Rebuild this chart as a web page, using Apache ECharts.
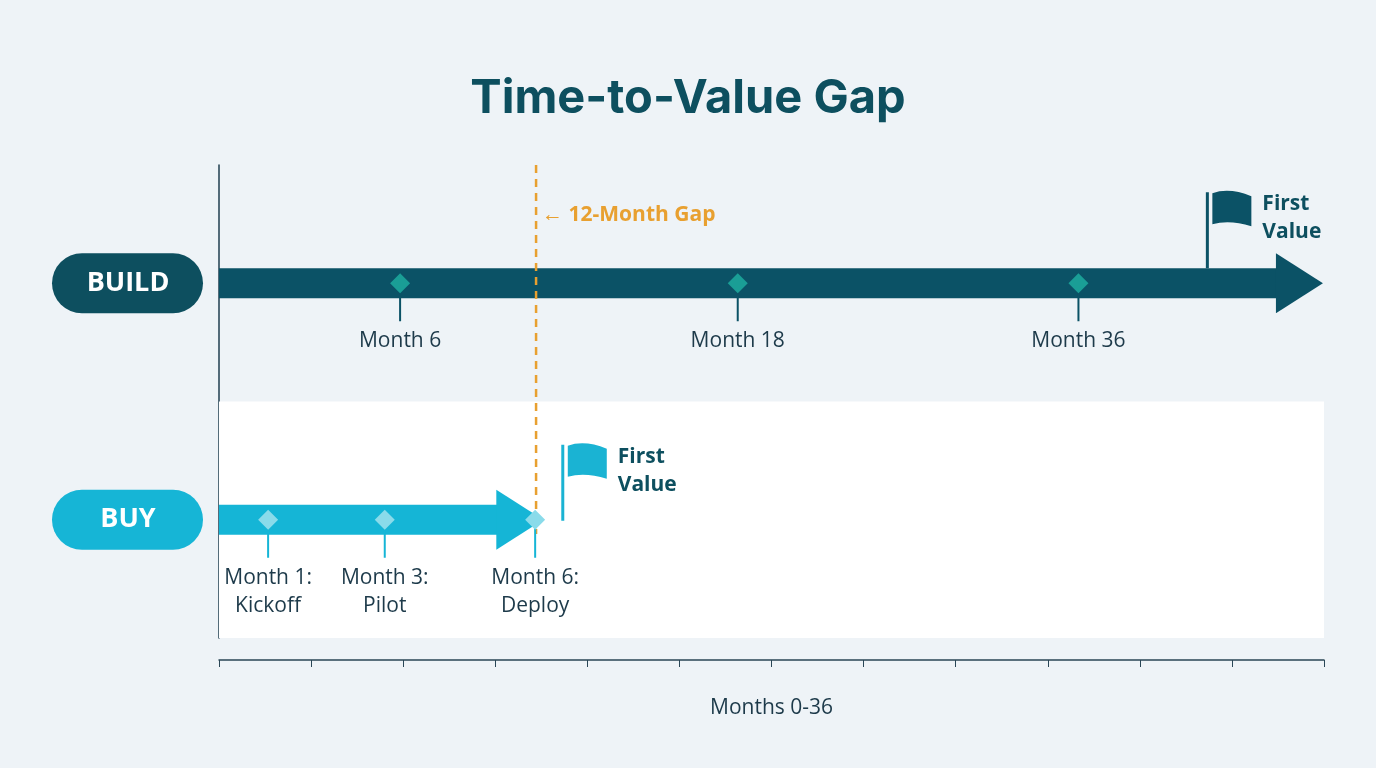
<!DOCTYPE html><html><head><meta charset="utf-8">
<script src="https://cdn.jsdelivr.net/npm/echarts@6/dist/echarts.min.js"></script>
<style>html,body{margin:0;background:#eef3f7}#c{width:1376px;height:768px}</style></head><body><div id="c"></div>
<script>
const rows = ['BUILD','BUY'];
const rowY = [75, 25];
const buildEnd = 34.5, buyEnd = 9.15;
const buildMarkers = [[5.9,'Month 6'],[16.9,'Month 18'],[28,'Month 36']];
const buyMarkers = [[1.6,'Month 1:\nKickoff'],[5.4,'Month 3:\nPilot'],[10.3,'Month 6:\nDeploy']];
const flags = [[32.2,75],[11.2,25]];
const gapMonth = 10.33;
const gapLabel = '← 12-Month Gap';
const xTicks = {min:0,max:36,interval:3};
const DARK='#0b5266', CYAN='#15b5d6', TXT='#1d3a4a';
const chart = echarts.init(document.getElementById('c'));
function markerItem(color, dcolor, stem){
  return function(params, api){
    const p = api.coord([api.value(0), api.value(1)]);
    const lab = api.value(2);
    return {type:'group',children:[
      {type:'line',shape:{x1:p[0],y1:p[1],x2:p[0],y2:p[1]+stem},style:{stroke:color,lineWidth:2}},
      {type:'polygon',shape:{points:[[p[0],p[1]-10],[p[0]+10,p[1]],[p[0],p[1]+10],[p[0]-10,p[1]]]},style:{fill:dcolor}},
      {type:'text',x:p[0],y:p[1]+stem+6,style:{text:lab,fill:TXT,font:'21px "Open Sans"',align:'center',verticalAlign:'top',lineHeight:28}}
    ]};
  };
}
chart.setOption({
  backgroundColor:'#eef3f7',
  title:{text:'Time-to-Value Gap',left:'center',top:70,textStyle:{fontSize:47,fontWeight:'bold',color:'#0d4f5f',fontFamily:'Inter'}},
  grid:{left:219,right:52,top:165,bottom:130},
  xAxis:{type:'value',min:xTicks.min,max:xTicks.max,interval:xTicks.interval,offset:22,
    axisLine:{show:true,onZero:false,lineStyle:{color:'#2a4656',width:1.5}},axisTick:{show:true,length:7,lineStyle:{color:'#2a4656'}},
    axisLabel:{show:false},splitLine:{show:false},
    name:'Months 0-36',nameLocation:'middle',nameGap:38,nameTextStyle:{fontSize:21,color:TXT,fontFamily:'Open Sans'}},
  yAxis:{type:'value',min:0,max:100,axisLine:{show:true,lineStyle:{color:'#1f3e4f',width:1.5}},axisTick:{show:false},axisLabel:{show:false},splitLine:{show:false}},
  series:[
    {type:'line',data:[],markArea:{silent:true,itemStyle:{color:'#ffffff'},data:[[{xAxis:0,yAxis:0},{xAxis:36,yAxis:50}]]}},
    {type:'line',data:[[0,rowY[0]],[buildEnd,rowY[0]]],symbol:'none',lineStyle:{color:DARK,width:30,cap:'butt'},z:2},
    {type:'line',data:[[0,rowY[1]],[buyEnd,rowY[1]]],symbol:'none',lineStyle:{color:CYAN,width:30,cap:'butt'},z:2},
    {type:'scatter',symbol:'triangle',symbolRotate:-90,symbolSize:[60,47],z:2,
      data:[{value:[35.2,rowY[0]],itemStyle:{color:DARK,opacity:1}},{value:[9.8,rowY[1]],itemStyle:{color:CYAN,opacity:1}}]},
    {type:'custom',z:5,renderItem:markerItem('#0b5266','#1a9e96',38),data:buildMarkers.map(m=>[m[0],rowY[0],m[1]])},
    {type:'custom',z:5,renderItem:markerItem(CYAN,'#8adbea',38),data:buyMarkers.map(m=>[m[0],rowY[1],m[1]])},
    {type:'custom',z:4,data:[[gapMonth,100,22]],renderItem:function(p,api){
      const a=api.coord([api.value(0),api.value(1)]), b=api.coord([api.value(0),api.value(2)]);
      return {type:'group',children:[
        {type:'line',shape:{x1:a[0],y1:a[1],x2:b[0],y2:b[1]},style:{stroke:'#e8a030',lineWidth:2.5,lineDash:[8,6]}},
        {type:'text',x:a[0]+6,y:a[1]+50,style:{text:gapLabel,fill:'#e8a030',font:'bold 21px "Open Sans"',verticalAlign:'middle'}}]};
    }},
    {type:'custom',z:6,data:flags.map((f,i)=>[f[0],f[1],i]),renderItem:function(p,api){
      const c=api.coord([api.value(0),api.value(1)]); const i=api.value(2);
      const col=i===0?'#0b5266':'#1ab3d3', x=c[0], y=c[1]+(i===0?-15:1);
      return {type:'group',children:[
        {type:'line',shape:{x1:x,y1:y,x2:x,y2:y-76},style:{stroke:col,lineWidth:3}},
        {type:'path',shape:{pathData:`M${x+5} ${y-75} Q${x+22} ${y-81} ${x+44} ${y-72} L${x+44} ${y-42} Q${x+22} ${y-49} ${x+5} ${y-44} Z`},style:{fill:col}},
        {type:'text',x:x+55,y:y-78,style:{text:'First\nValue',fill:'#0d4f5f',font:'bold 21px "Open Sans"',lineHeight:28,verticalAlign:'top'}}]};
    }},
    {type:'custom',z:6,data:rows.map((r,i)=>[0,rowY[i],r]),renderItem:function(p,api){
      const c=api.coord([0,api.value(1)]); const col=p.dataIndex===0?'#0d4f5f':'#16b5d6';
      return {type:'group',children:[
        {type:'rect',shape:{x:c[0]-167,y:c[1]-30,width:151,height:60,r:30},style:{fill:col}},
        {type:'text',x:c[0]-91,y:c[1],style:{text:api.value(2),fill:'#fff',font:'bold 27px "Open Sans"',align:'center',verticalAlign:'middle'}}]};
    }}
  ]
});
</script></body></html>
